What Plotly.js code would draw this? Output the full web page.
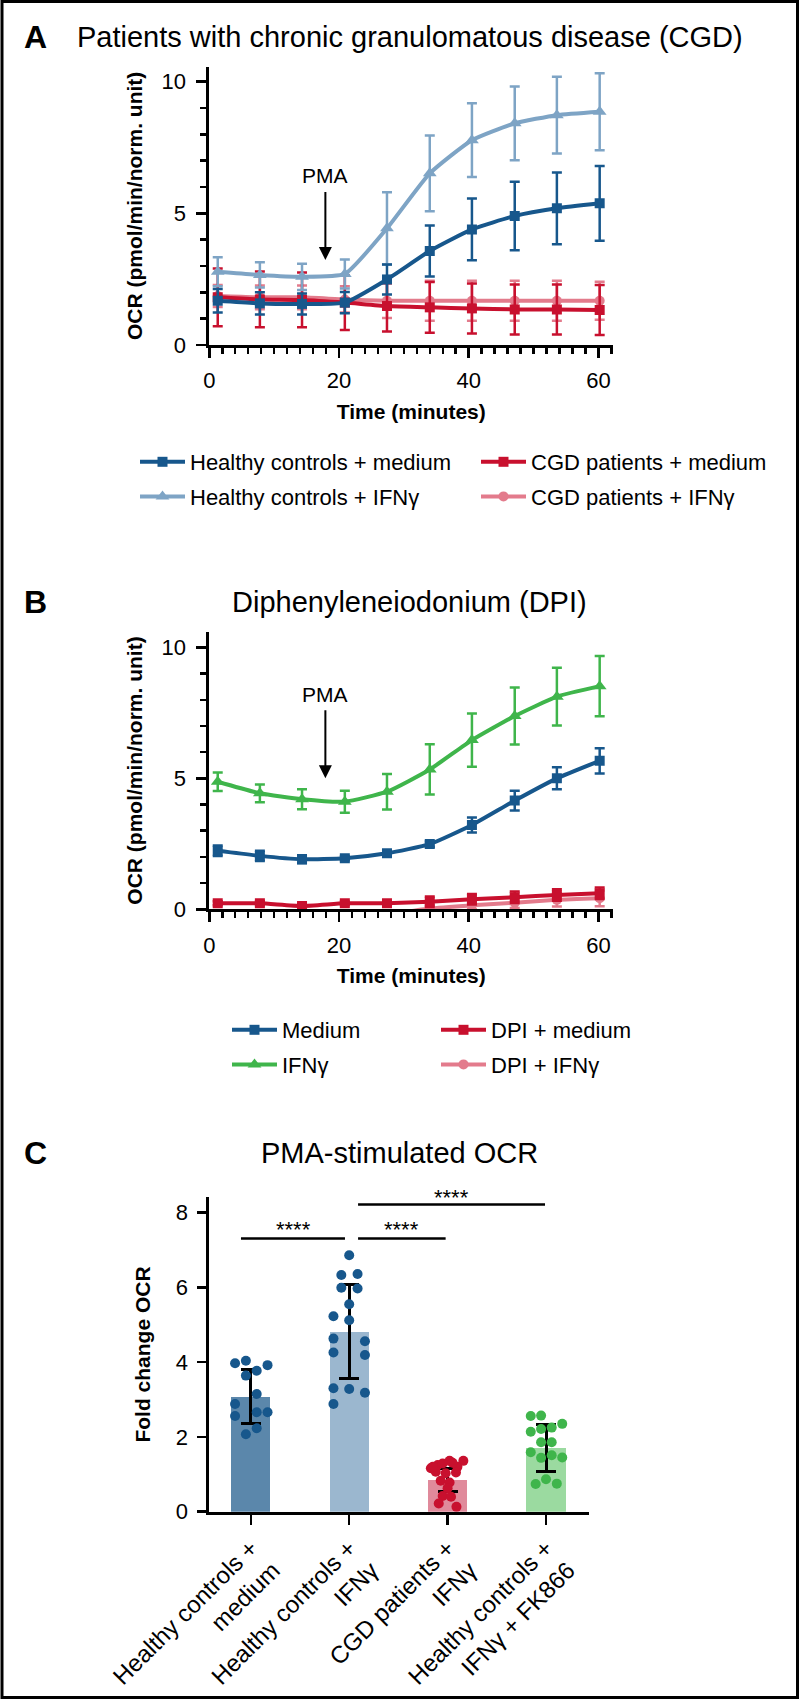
<!DOCTYPE html>
<html><head><meta charset="utf-8">
<script src="https://cdn.plot.ly/plotly-3.0.1.min.js"></script>
<style>html,body{margin:0;padding:0;background:#fff}#chart{width:800px;height:1705px}</style>
</head><body><div id="chart"></div>
<script>
// ---------- Data ----------
const timeMin = [1.3, 7.8, 14.3, 20.9, 27.4, 34.0, 40.5, 47.1, 53.6, 60.2];

// Panel A: CGD patients
const hcMediumA = [1.68, 1.58, 1.56, 1.61, 2.49, 3.57, 4.39, 4.90, 5.19, 5.38];
const hcMediumAErr = [0.45, 0.42, 0.40, 0.40, 0.57, 0.97, 1.17, 1.30, 1.36, 1.42];
const hcIfnA = [2.78, 2.66, 2.59, 2.70, 4.43, 6.52, 7.78, 8.42, 8.73, 8.86];
const hcIfnAErr = [0.55, 0.48, 0.50, 0.55, 1.37, 1.44, 1.40, 1.40, 1.46, 1.46];
const cgdMediumA = [1.81, 1.73, 1.71, 1.61, 1.48, 1.43, 1.39, 1.35, 1.35, 1.33];
const cgdMediumAErr = [1.10, 1.06, 1.04, 1.04, 0.97, 0.96, 0.95, 0.95, 0.95, 0.95];
const cgdIfnA = [1.86, 1.81, 1.81, 1.73, 1.68, 1.68, 1.68, 1.68, 1.68, 1.68];
const cgdIfnAErr = [0.42, 0.45, 0.45, 0.50, 0.65, 0.76, 0.76, 0.76, 0.76, 0.72];

// Panel B: DPI
const mediumB = [2.24, 2.04, 1.91, 1.95, 2.14, 2.49, 3.22, 4.15, 5.00, 5.67];
const mediumBErr = [0.20, 0.20, 0.15, 0.08, 0.10, 0.10, 0.29, 0.38, 0.42, 0.48];
const ifnB = [4.87, 4.43, 4.20, 4.11, 4.49, 5.34, 6.46, 7.38, 8.12, 8.52];
const ifnBErr = [0.35, 0.34, 0.38, 0.42, 0.68, 0.96, 1.02, 1.09, 1.10, 1.15];
const dpiMediumB = [0.23, 0.23, 0.13, 0.23, 0.23, 0.29, 0.38, 0.46, 0.55, 0.61];
const dpiMediumBErr = [0.08, 0.08, 0.06, 0.07, 0.08, 0.20, 0.20, 0.22, 0.22, 0.22];
const dpiIfnB = [-0.45, -0.45, -0.50, -0.40, -0.20, 0.03, 0.15, 0.25, 0.36, 0.42];
const dpiIfnBErr = [0.10, 0.10, 0.10, 0.10, 0.10, 0.12, 0.15, 0.20, 0.25, 0.30];

// Panel C: PMA-stimulated OCR
const groupLabels = ['Healthy controls +<br>medium', 'Healthy controls +<br>IFNγ',
                     'CGD patients +<br>IFNγ', 'Healthy controls +<br>IFNγ + FK866'];
const groupMeans = [3.08, 4.82, 0.84, 1.70];
const groupSD = [0.72, 1.27, 0.31, 0.63];
const g1Vals = [3.97, 4.04, 3.77, 3.92, 3.64, 3.15, 2.88, 2.56, 2.66, 2.66, 2.23, 2.07];
const g1Jit  = [-0.16, -0.05, 0.06, 0.17, -0.05, 0.06, -0.16, -0.16, 0.06, 0.17, 0.06, -0.05];
const g2Vals = [6.86, 6.33, 6.36, 5.99, 5.97, 5.55, 5.23, 5.12, 4.63, 4.56, 4.26, 4.19, 3.30, 3.28, 3.18, 2.88];
const g2Jit  = [0, -0.08, 0.085, -0.08, 0.085, 0, -0.16, 0, -0.16, 0.16, -0.16, 0.16, -0.16, 0, 0.16, -0.16];
const g3Vals = [1.16, 1.25, 1.29, 1.36, 1.36, 1.20, 1.07, 1.03, 1.05, 0.83, 0.78, 0.63, 0.42, 0.40, 0.22, 0.13, 1.31, 1.20];
const g3Jit  = [-0.17, -0.10, -0.05, 0.02, 0.16, 0.10, -0.12, -0.02, 0.085, -0.07, 0.02, 0, -0.05, 0.035, -0.09, 0.09, 0.05, -0.15];
const g4Vals = [2.56, 2.57, 2.14, 2.21, 2.25, 2.35, 1.86, 1.86, 1.59, 1.44, 1.51, 1.45, 0.74, 0.87, 0.75];
const g4Jit  = [-0.155, -0.05, -0.155, -0.05, 0.058, 0.165, -0.05, 0.058, -0.155, -0.05, 0.058, 0.165, -0.105, 0, 0.11];

// ---------- Styles ----------
const FONT = 'Liberation Sans, Arial, Helvetica, sans-serif';
const C_DARK = '#17578c', C_LIGHT = '#7ea4c5', C_RED = '#c8102e', C_PINK = '#e37b8c', C_GREEN = '#3fb54b';

function series(y, err, name, color, symbol, xa, ya, legend, rank) {
  return {
    type: 'scatter', mode: 'lines+markers', x: timeMin, y: y, name: name,
    xaxis: xa, yaxis: ya, legend: legend, legendgroup: name + xa, legendrank: rank,
    line: {color: color, width: 4, shape: 'spline', smoothing: 0.5},
    marker: {color: color, symbol: symbol, size: symbol === 'triangle-up' ? 12 : 10},
    error_y: {type: 'data', array: err, visible: true, color: color, thickness: 2.5, width: 5}
  };
}

const traces = [
  series(cgdIfnA, cgdIfnAErr, 'CGD patients + IFNγ', C_PINK, 'circle', 'x', 'y', 'legend2', 4),
  series(cgdMediumA, cgdMediumAErr, 'CGD patients + medium', C_RED, 'square', 'x', 'y', 'legend2', 3),
  series(hcIfnA, hcIfnAErr, 'Healthy controls + IFNγ', C_LIGHT, 'triangle-up', 'x', 'y', 'legend', 2),
  series(hcMediumA, hcMediumAErr, 'Healthy controls + medium', C_DARK, 'square', 'x', 'y', 'legend', 1),

  series(dpiIfnB, dpiIfnBErr, 'DPI + IFNγ', C_PINK, 'circle', 'x2', 'y2', 'legend4', 4),
  series(dpiMediumB, dpiMediumBErr, 'DPI + medium', C_RED, 'square', 'x2', 'y2', 'legend4', 3),
  series(mediumB, mediumBErr, 'Medium', C_DARK, 'square', 'x2', 'y2', 'legend3', 1),
  series(ifnB, ifnBErr, 'IFNγ', C_GREEN, 'triangle-up', 'x2', 'y2', 'legend3', 2),

  {type: 'bar', x: [0, 1, 2, 3], y: groupMeans, width: 0.4, xaxis: 'x3', yaxis: 'y3', showlegend: false,
   marker: {color: ['#5b87ab', '#9bb7cf', '#e08a9b', '#9bdaa0'], line: {width: 0}},
   error_y: {type: 'data', array: groupSD, visible: true, color: '#000', thickness: 3, width: 10}}
];
const dotSets = [[g1Vals, g1Jit, C_DARK], [g2Vals, g2Jit, C_DARK], [g3Vals, g3Jit, C_RED], [g4Vals, g4Jit, C_GREEN]];
dotSets.forEach(function (d, i) {
  traces.push({type: 'scatter', mode: 'markers', x: d[1].map(function (j) { return i + j; }), y: d[0],
    xaxis: 'x3', yaxis: 'y3', showlegend: false, marker: {color: d[2], size: 10}});
});

// ---------- Layout ----------
const W = 800, H = 1705;
const px = function (v) { return v / W; };
const py = function (v) { return 1 - v / H; };

function axisBase(extra) {
  return Object.assign({
    showline: true, linecolor: '#000', linewidth: 3, ticks: 'outside', ticklen: 10, tickwidth: 2.5,
    tickcolor: '#000', showgrid: false, zeroline: false, tickfont: {family: FONT, size: 22, color: '#000'},
    fixedrange: true
  }, extra);
}

const titleFont = {family: FONT, size: 21, color: '#000', weight: 'bold'};

const timeAxis = function (anchor) {
  return axisBase({
    domain: [px(209.3), px(613.3)], anchor: anchor, range: [0, 62.3], dtick: 20, tick0: 0,
    ticklabelstandoff: 4,
    minor: {dtick: 2, ticks: 'outside', ticklen: 6, tickwidth: 2.5, tickcolor: '#000', showgrid: false},
    title: {text: 'Time (minutes)', font: titleFont, standoff: 12}
  });
};
const ocrAxis = function (anchor, dom, top) {
  return axisBase({
    domain: dom, anchor: anchor, range: [0, top], dtick: 5, tick0: 0, ticklabelstandoff: 6,
    minor: {dtick: 1, ticks: 'outside', ticklen: 6, tickwidth: 2.5, tickcolor: '#000', showgrid: false},
    title: {text: 'OCR (pmol/min/norm. unit)', font: titleFont, standoff: 14}
  });
};

const legendBase = function (x, ytop) {
  return {x: px(x), y: py(ytop), xanchor: 'left', yanchor: 'top', font: {family: FONT, size: 22, color: '#000'},
          bgcolor: 'rgba(0,0,0,0)', traceorder: 'grouped', tracegroupgap: 3, itemwidth: 45, orientation: 'v'};
};

const ann = [];
function txt(text, x, y, size, opts) {
  ann.push(Object.assign({text: text, x: x, y: y, xref: 'paper', yref: 'paper', showarrow: false,
    font: {family: FONT, size: size, color: '#000'}, xanchor: 'center', yanchor: 'middle'}, opts || {}));
}
txt('<b>A</b>', px(22), py(37), 32, {xanchor: 'left'});
txt('Patients with chronic granulomatous disease (CGD)', px(410), py(37), 29);
txt('<b>B</b>', px(22), py(601.7), 32, {xanchor: 'left'});
txt('Diphenyleneiodonium (DPI)', px(410), py(601.7), 29);
txt('<b>C</b>', px(22), py(1153), 32, {xanchor: 'left'});
txt('PMA-stimulated OCR', px(399), py(1153), 29);
txt('****', px(293), py(1229), 22);
txt('****', px(401.5), py(1229), 22);
txt('****', px(451.5), py(1197), 22);

// PMA arrows
ann.push({text: 'PMA', x: 17.9, y: 3.23, xref: 'x', yref: 'y', ax: 0, ay: -84, showarrow: true,
  arrowhead: 2, arrowsize: 1.3, arrowwidth: 2, arrowcolor: '#000', startstandoff: 3,
  font: {family: FONT, size: 21, color: '#000'}});
ann.push({text: 'PMA', x: 17.9, y: 5.0, xref: 'x2', yref: 'y2', ax: 0, ay: -84, showarrow: true,
  arrowhead: 2, arrowsize: 1.3, arrowwidth: 2, arrowcolor: '#000', startstandoff: 3,
  font: {family: FONT, size: 21, color: '#000'}});

const shapes = [
  {type: 'line', xref: 'x3', yref: 'y3', x0: -0.10, x1: 0.957, y0: 7.31, y1: 7.31, line: {color: '#000', width: 2.5}},
  {type: 'line', xref: 'x3', yref: 'y3', x0: 1.09, x1: 1.98, y0: 7.31, y1: 7.31, line: {color: '#000', width: 2.5}},
  {type: 'line', xref: 'x3', yref: 'y3', x0: 1.09, x1: 2.99, y0: 8.22, y1: 8.22, line: {color: '#000', width: 2.5}},
  {type: 'rect', xref: 'paper', yref: 'paper', x0: px(2), x1: px(797.5), y0: py(1697.5), y1: py(1.5),
   line: {color: '#000', width: 3}, fillcolor: 'rgba(0,0,0,0)'}
];

const layout = {
  width: W, height: H, margin: {l: 0, r: 0, t: 0, b: 0}, paper_bgcolor: '#fff', plot_bgcolor: '#fff',
  font: {family: FONT, color: '#000'},
  xaxis: timeAxis('y'),
  yaxis: ocrAxis('x', [py(345), py(66.7)], 10.57),
  xaxis2: timeAxis('y2'),
  yaxis2: ocrAxis('x2', [py(909.3), py(631.7)], 10.6),
  xaxis3: axisBase({domain: [px(208.5), px(588.7)], anchor: 'y3', range: [-0.43, 3.434],
    tickvals: [0, 1, 2, 3], ticktext: groupLabels, tickangle: -45, tickfont: {family: FONT, size: 24, color: '#000'}}),
  yaxis3: axisBase({domain: [py(1511.7), py(1197.3)], anchor: 'x3', range: [0, 8.41], dtick: 2, ticklen: 9,
    ticklabelstandoff: 4,
    title: {text: 'Fold change OCR', font: titleFont, standoff: 20}}),
  legend: legendBase(135, 441),
  legend2: legendBase(476, 441),
  legend3: legendBase(227, 1009),
  legend4: legendBase(436, 1009),
  annotations: ann,
  shapes: shapes,
  bargap: 0
};

Plotly.newPlot('chart', traces, layout, {displayModeBar: false, staticPlot: true});
</script></body></html>
